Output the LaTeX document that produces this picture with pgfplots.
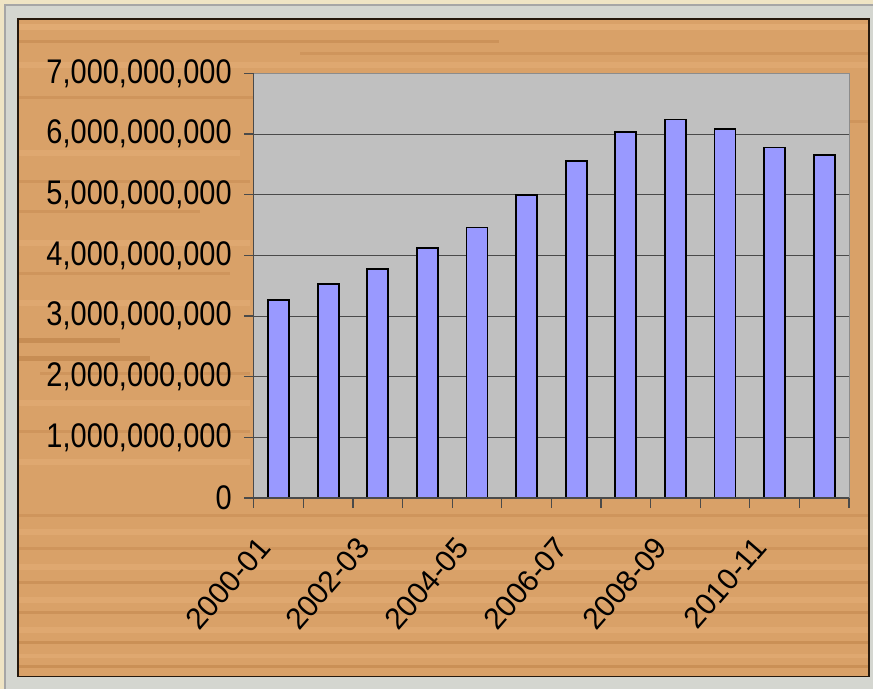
\documentclass[border=0pt]{standalone}
\usepackage{pgfplots}
\pgfplotsset{compat=1.18}
\usepackage{fontspec}
\setmainfont{Liberation Sans}
\usepackage{graphicx}

\definecolor{beige}{HTML}{EFE4C4}
\definecolor{framegray}{HTML}{D4D6D0}
\definecolor{wood}{HTML}{D9A168}
\definecolor{wooddark}{HTML}{A8692F}
\definecolor{woodlight}{HTML}{EDBB84}
\definecolor{plotgray}{HTML}{C0C0C0}
\definecolor{barblue}{HTML}{9999FF}
\definecolor{gridc}{HTML}{4A4A4A}

\newcommand\lbl[1]{\scalebox{1}[1.18]{#1}}

\begin{document}
\begin{tikzpicture}
% background, frame and wood panel (1 px = 0.5pt)
\begin{scope}[x=0.5pt,y=-0.5pt]
  \fill[beige] (0,0) rectangle (874,690);
  \fill[framegray] (5,5) rectangle (874,690);
  \draw[black!35, line width=1pt] (5,690) -- (5,5) -- (874,5);
  \fill[wood] (18,19) rectangle (870,677);
  \foreach \ya/\yb/\xa/\xb/\c/\o in {
      24/30/18/870/woodlight/0.4, 40/43/18/500/wooddark/0.25, 52/55/300/870/wooddark/0.2,
      62/68/18/870/woodlight/0.3, 96/99/18/420/wooddark/0.2, 120/123/500/870/wooddark/0.2,
      150/156/18/240/woodlight/0.3, 180/183/18/250/wooddark/0.2, 210/213/18/200/wooddark/0.2,
      240/246/18/250/woodlight/0.3, 272/275/18/230/wooddark/0.2, 300/306/18/250/woodlight/0.3,
      338/343/18/120/wooddark/0.35, 356/361/18/150/wooddark/0.35, 372/375/40/250/wooddark/0.2,
      400/406/18/250/woodlight/0.3, 430/433/18/250/wooddark/0.2, 460/466/18/250/woodlight/0.3,
      515/518/18/870/wooddark/0.2, 530/536/18/870/woodlight/0.3, 548/551/18/870/wooddark/0.2,
      565/571/18/870/woodlight/0.3, 582/585/18/870/wooddark/0.25, 598/604/18/870/woodlight/0.3,
      612/615/18/870/wooddark/0.25, 628/634/18/870/woodlight/0.3, 642/645/18/870/wooddark/0.3,
      655/659/18/870/woodlight/0.3, 666/669/18/870/wooddark/0.3}
    {\fill[\c, opacity=\o] (\xa,\ya) rectangle (\xb,\yb);}
  \draw[black!80!brown, line width=0.6pt] (18,19) rectangle (870,677);
\end{scope}

\begin{axis}[
    at={(127pt,-249.25pt)}, anchor=south west,
    scale only axis,
    width=298pt, height=212.5pt,
    ybar, bar width=10.5pt,
    xmin=-0.5, xmax=11.5,
    ymin=0, ymax=7000000000,
    axis background/.style={fill=plotgray},
    axis line style={black!45, line width=0.5pt},
    tick align=outside,
    xtick pos=bottom, ytick pos=left,
    tick style={gridc, line width=0.6pt},
    major tick length=4.8pt,
    xtick={-0.5,0.5,...,11.5},
    xticklabels={},
    extra x ticks={0,2,4,6,8,10},
    extra x tick labels={2000-01,2002-03,2004-05,2006-07,2008-09,2010-11},
    extra x tick style={major tick length=0pt, grid=none},
    xticklabel style={font=\fontsize{15}{17}\selectfont, xshift=-7pt, yshift=5pt, rotate=49, anchor=east, inner sep=0pt},
    xticklabel shift=27pt,
    ytick={0,1000000000,2000000000,3000000000,4000000000,5000000000,6000000000,7000000000},
    scaled y ticks=false,
    /pgf/number format/assume math mode=true,
    yticklabel={\lbl{\pgfmathprintnumber[fixed,precision=0,1000 sep={,},assume math mode=true]{\tick}}},
    yticklabel style={font=\fontsize{14.5}{16}\selectfont, anchor=east, inner sep=0pt},
    yticklabel shift=6pt,
    ymajorgrids=true,
    grid style={gridc, line width=0.5pt},
    clip=false,
]
\addplot[fill=barblue, draw=black, line width=0.9pt] coordinates {
    (0, 3270000000)
    (1, 3530000000)
    (2, 3780000000)
    (3, 4120000000)
    (4, 4460000000)
    (5, 5000000000)
    (6, 5560000000)
    (7, 6040000000)
    (8, 6240000000)
    (9, 6080000000)
    (10, 5780000000)
    (11, 5650000000)
};
\draw[gridc, line width=0.6pt] (rel axis cs:0,1) -- (rel axis cs:0,0) -- (rel axis cs:1,0);
\end{axis}
\end{tikzpicture}
\end{document}
